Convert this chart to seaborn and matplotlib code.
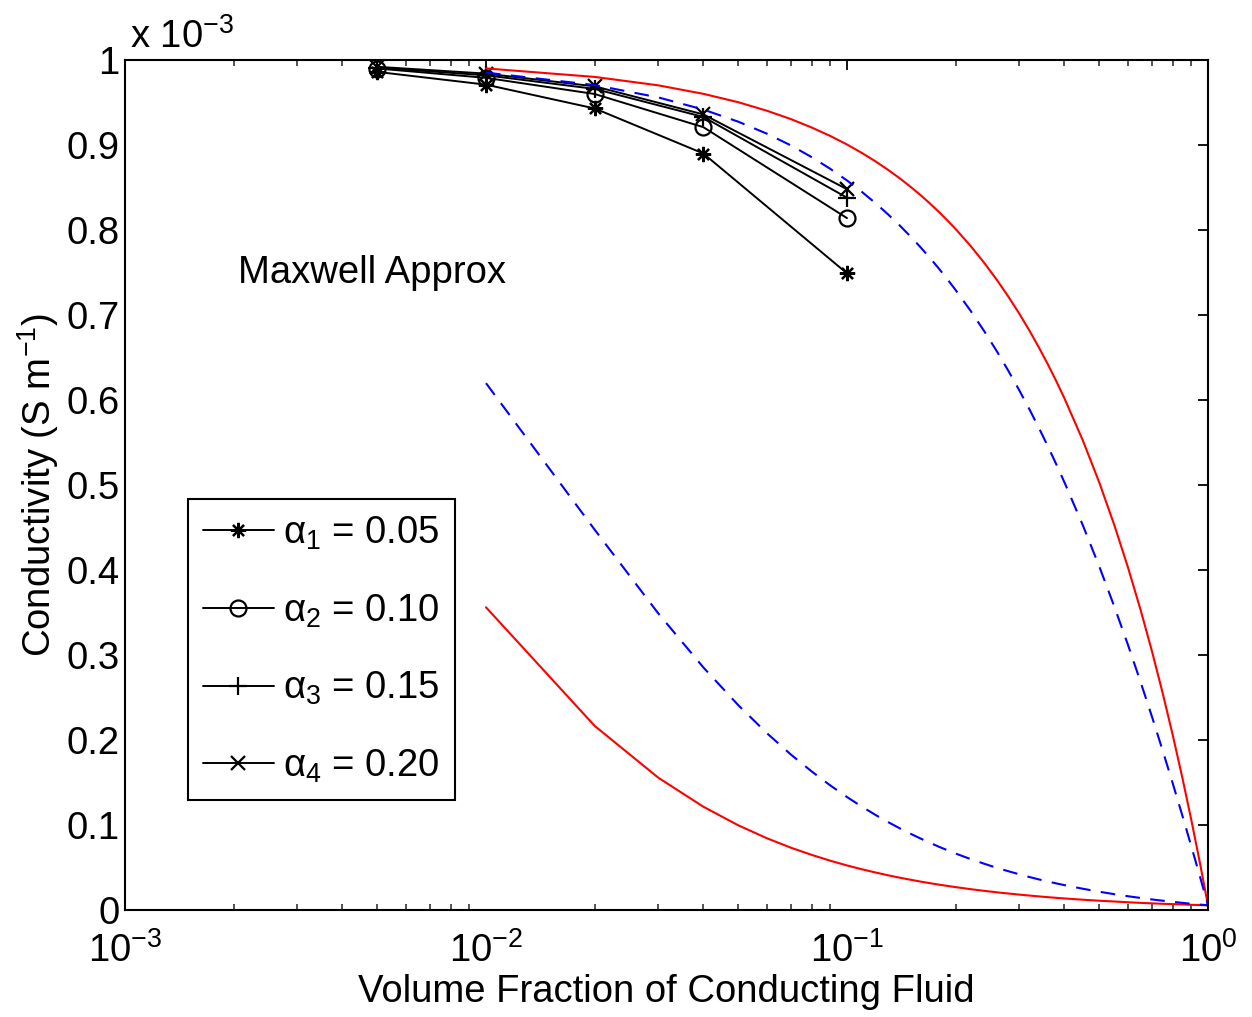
import numpy as np
import pandas as pd
import matplotlib
matplotlib.use("Agg")
import matplotlib.pyplot as plt
import matplotlib.ticker as mticker
import seaborn as sns

# ---- data (conductivity in units of 1e-3 S/m) ----
alpha_x = [0.005, 0.01, 0.02, 0.04, 0.1]
alpha1 = [0.986, 0.971, 0.943, 0.890, 0.749]
alpha2 = [0.990, 0.979, 0.960, 0.921, 0.814]
alpha3 = [0.991, 0.982, 0.966, 0.933, 0.838]
alpha4 = [0.992, 0.984, 0.969, 0.936, 0.848]
alpha_labels = [r"$\alpha_1$ = 0.05", r"$\alpha_2$ = 0.10",
                r"$\alpha_3$ = 0.15", r"$\alpha_4$ = 0.20"]

bound_x = [0.01, 0.02, 0.03, 0.04, 0.05, 0.06, 0.07, 0.08, 0.09, 0.10,
           0.11, 0.12, 0.13, 0.14, 0.15, 0.16, 0.17, 0.18, 0.19, 0.20,
           0.22, 0.24, 0.26, 0.28, 0.30, 0.32, 0.34, 0.36, 0.38, 0.40,
           0.45, 0.50, 0.55, 0.60, 0.65, 0.70, 0.75, 0.80, 0.85, 0.90,
           0.95, 1.00]
red_upper = [0.9901, 0.9801, 0.9702, 0.9602, 0.9503, 0.9403, 0.9304, 0.9204,
             0.9105, 0.9006, 0.8906, 0.8807, 0.8707, 0.8608, 0.8508, 0.8409,
             0.8309, 0.8210, 0.8110, 0.8011, 0.7812, 0.7613, 0.7414, 0.7215,
             0.7017, 0.6818, 0.6619, 0.6420, 0.6221, 0.6022, 0.5525, 0.5028,
             0.4530, 0.4033, 0.3536, 0.3039, 0.2541, 0.2044, 0.1547, 0.1050,
             0.0552, 0.0055]
red_lower = [0.3561, 0.2166, 0.1557, 0.1215, 0.0996, 0.0844, 0.0732, 0.0647,
             0.0579, 0.0524, 0.0479, 0.0441, 0.0408, 0.0380, 0.0356, 0.0334,
             0.0315, 0.0298, 0.0283, 0.0269, 0.0245, 0.0225, 0.0208, 0.0194,
             0.0181, 0.0170, 0.0160, 0.0151, 0.0143, 0.0136, 0.0121, 0.0109,
             0.0100, 0.0091, 0.0084, 0.0078, 0.0073, 0.0069, 0.0065, 0.0061,
             0.0058, 0.0055]
blue_upper = [0.9852, 0.9705, 0.9560, 0.9417, 0.9274, 0.9133, 0.8994, 0.8855,
              0.8718, 0.8583, 0.8448, 0.8315, 0.8183, 0.8053, 0.7923, 0.7795,
              0.7668, 0.7542, 0.7417, 0.7293, 0.7049, 0.6809, 0.6574, 0.6342,
              0.6115, 0.5892, 0.5672, 0.5456, 0.5243, 0.5034, 0.4527, 0.4040,
              0.3571, 0.3121, 0.2687, 0.2270, 0.1867, 0.1479, 0.1104, 0.0743,
              0.0393, 0.0055]
blue_lower = [0.6198, 0.4474, 0.3490, 0.2854, 0.2409, 0.2080, 0.1827, 0.1627,
              0.1464, 0.1329, 0.1215, 0.1118, 0.1034, 0.0961, 0.0897, 0.0840,
              0.0789, 0.0743, 0.0702, 0.0664, 0.0599, 0.0544, 0.0496, 0.0456,
              0.0420, 0.0388, 0.0360, 0.0335, 0.0313, 0.0293, 0.0250, 0.0215,
              0.0186, 0.0162, 0.0142, 0.0124, 0.0109, 0.0095, 0.0084, 0.0073,
              0.0064, 0.0055]

y_ticks = [0, 0.1, 0.2, 0.3, 0.4, 0.5, 0.6, 0.7, 0.8, 0.9, 1.0]

# ---- style ----
sns.set_theme(style="white")
plt.rcParams["font.family"] = ["Liberation Sans", "DejaVu Sans"]
plt.rcParams["mathtext.fontset"] = "custom"
plt.rcParams["mathtext.rm"] = "Liberation Sans"
plt.rcParams["mathtext.it"] = "Liberation Sans"
plt.rcParams["mathtext.bf"] = "Liberation Sans:bold"
plt.rcParams["axes.unicode_minus"] = True
plt.rcParams["text.color"] = "black"
plt.rcParams["axes.labelcolor"] = "black"

FS = 27.5
fig = plt.figure(figsize=(12.52, 10.17), dpi=100)
ax = fig.add_axes([125 / 1252, 107 / 1017, 1083 / 1252, 850 / 1017])

markers = [(8, 2, 0), "o", "+", "x"]
msizes = [11, 11.5, 13, 9.5]
handles = []
for ys, m, ms, lab in zip([alpha1, alpha2, alpha3, alpha4], markers, msizes, alpha_labels):
    sns.lineplot(x=alpha_x, y=ys, ax=ax, color="black", lw=1.4, marker=m,
                 markersize=ms, mew=1.6, mfc="none", mec="black", label=lab,
                 legend=False)
    handles.append(ax.lines[-1])

sns.lineplot(x=bound_x, y=red_upper, ax=ax, color="red", lw=1.5, legend=False)
sns.lineplot(x=bound_x, y=red_lower, ax=ax, color="red", lw=1.5, legend=False)
sns.lineplot(x=bound_x, y=blue_upper, ax=ax, color="blue", lw=1.5,
             linestyle=(0, (7, 5)), legend=False)
sns.lineplot(x=bound_x, y=blue_lower, ax=ax, color="blue", lw=1.5,
             linestyle=(0, (7, 5)), legend=False)

ax.set_xscale("log")
ax.set_xlim(1e-3, 1)
ax.set_ylim(0, 1)
ax.set_yticks(y_ticks)
ax.yaxis.set_major_formatter(mticker.FuncFormatter(lambda v, p: f"{v:g}"))
ax.xaxis.set_major_locator(mticker.LogLocator(base=10, numticks=10))
ax.xaxis.set_minor_locator(mticker.LogLocator(base=10, subs=np.arange(2, 10), numticks=20))
ax.xaxis.set_minor_formatter(mticker.NullFormatter())
ax.tick_params(axis="both", which="major", direction="in", length=7, width=1.3,
               top=True, right=True, labelsize=FS, colors="black")
ax.tick_params(axis="y", which="major", pad=4)
ax.tick_params(axis="x", which="major", pad=16)
ax.tick_params(axis="x", which="minor", direction="in", length=4, width=1.1,
               top=True, bottom=True)
ax.tick_params(axis="y", which="minor", left=False, right=False)
for s in ax.spines.values():
    s.set_linewidth(1.5)
    s.set_color("black")
ax.grid(False)

ax.set_xlabel("Volume Fraction of Conducting Fluid", fontsize=FS, labelpad=3)
ax.set_ylabel(r"Conductivity (S m$^{-1}$)", fontsize=FS, labelpad=4)
ax.text(0.005, 1.005, r"x 10$^{-3}$", transform=ax.transAxes, ha="left",
        va="bottom", fontsize=FS)
ax.text(0.00206, 0.749, "Maxwell Approx", ha="left", va="center", fontsize=FS)

leg = ax.legend(handles=handles, labels=alpha_labels, loc="lower left",
                bbox_to_anchor=(0.058, 0.129), fontsize=FS, frameon=True,
                fancybox=False, edgecolor="black", framealpha=1,
                handlelength=1.85, handletextpad=0.25, labelspacing=1.06,
                borderpad=0.4, borderaxespad=0)
leg.get_frame().set_linewidth(1.5)

fig.savefig("out.png", dpi=100, facecolor="white")
